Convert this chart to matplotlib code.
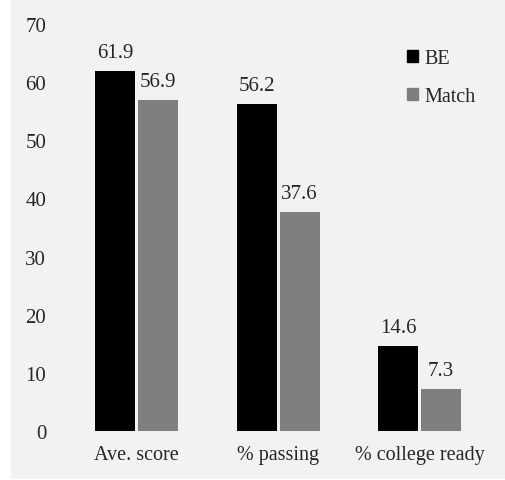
import matplotlib.pyplot as plt
from matplotlib.patches import Rectangle, Patch
import numpy as np

# data
categories = ['Ave. score', '% passing', '% college ready']
be_vals = [61.9, 56.2, 14.6]
match_vals = [56.9, 37.6, 7.3]
series_names = ['BE', 'Match']
colors = ['#000000', '#7f7f7f']

W, H = 505, 481
fig = plt.figure(figsize=(W / 100, H / 100), dpi=100, facecolor='white')
# light grey chart area with a thin white margin
fig.patches.append(Rectangle((11 / W, 1 / H), 1.0, 479 / H,
                             transform=fig.transFigure, facecolor='#f2f2f2',
                             edgecolor='none', zorder=-10))

ax = fig.add_axes([65.75 / W, (H - 432) / H, (490.25 - 65.75) / W, (432 - 25) / H])
ax.set_facecolor('none')
ax.set_zorder(5)

x = np.arange(len(categories))
w = 40 / 141.5
off = 21.5 / 141.5

b1 = ax.bar(x - off, be_vals, w, color=colors[0])
b2 = ax.bar(x + off, match_vals, w, color=colors[1])

serif = 'Liberation Serif'
txtcol = '#262626'
for bars, vals in [(b1, be_vals), (b2, match_vals)]:
    for r, v in zip(bars, vals):
        ax.annotate(f'{v:.1f}', (r.get_x() + r.get_width() / 2, v),
                    xytext=(0, 10), textcoords='offset points',
                    ha='center', va='baseline', fontsize=15, family=serif,
                    color=txtcol)

ax.set_xlim(-0.5, 2.5)
ax.set_ylim(0, 70)
ax.set_yticks(range(0, 71, 10))
ax.set_xticks(x)
ax.set_xticklabels(categories, family=serif, fontsize=14.5, color=txtcol)
for lbl in ax.get_yticklabels():
    lbl.set_family(serif)
    lbl.set_fontsize(15)
    lbl.set_color(txtcol)
ax.tick_params(axis='y', length=0, pad=14)
ax.tick_params(axis='x', length=0, pad=10)
for s in ax.spines.values():
    s.set_visible(False)

handles = [Patch(color=c) for c in colors]
leg = fig.legend(handles, series_names, loc='upper left',
                 bbox_to_anchor=(407 / W, (H - 50) / H), frameon=False,
                 prop={'family': serif, 'size': 14.5},
                 handlelength=0.55, handleheight=0.55, handletextpad=0.3,
                 labelspacing=0.95, borderpad=0, borderaxespad=0)
for t in leg.get_texts():
    t.set_color(txtcol)

fig.savefig('out.png', dpi=100, facecolor=fig.get_facecolor())
